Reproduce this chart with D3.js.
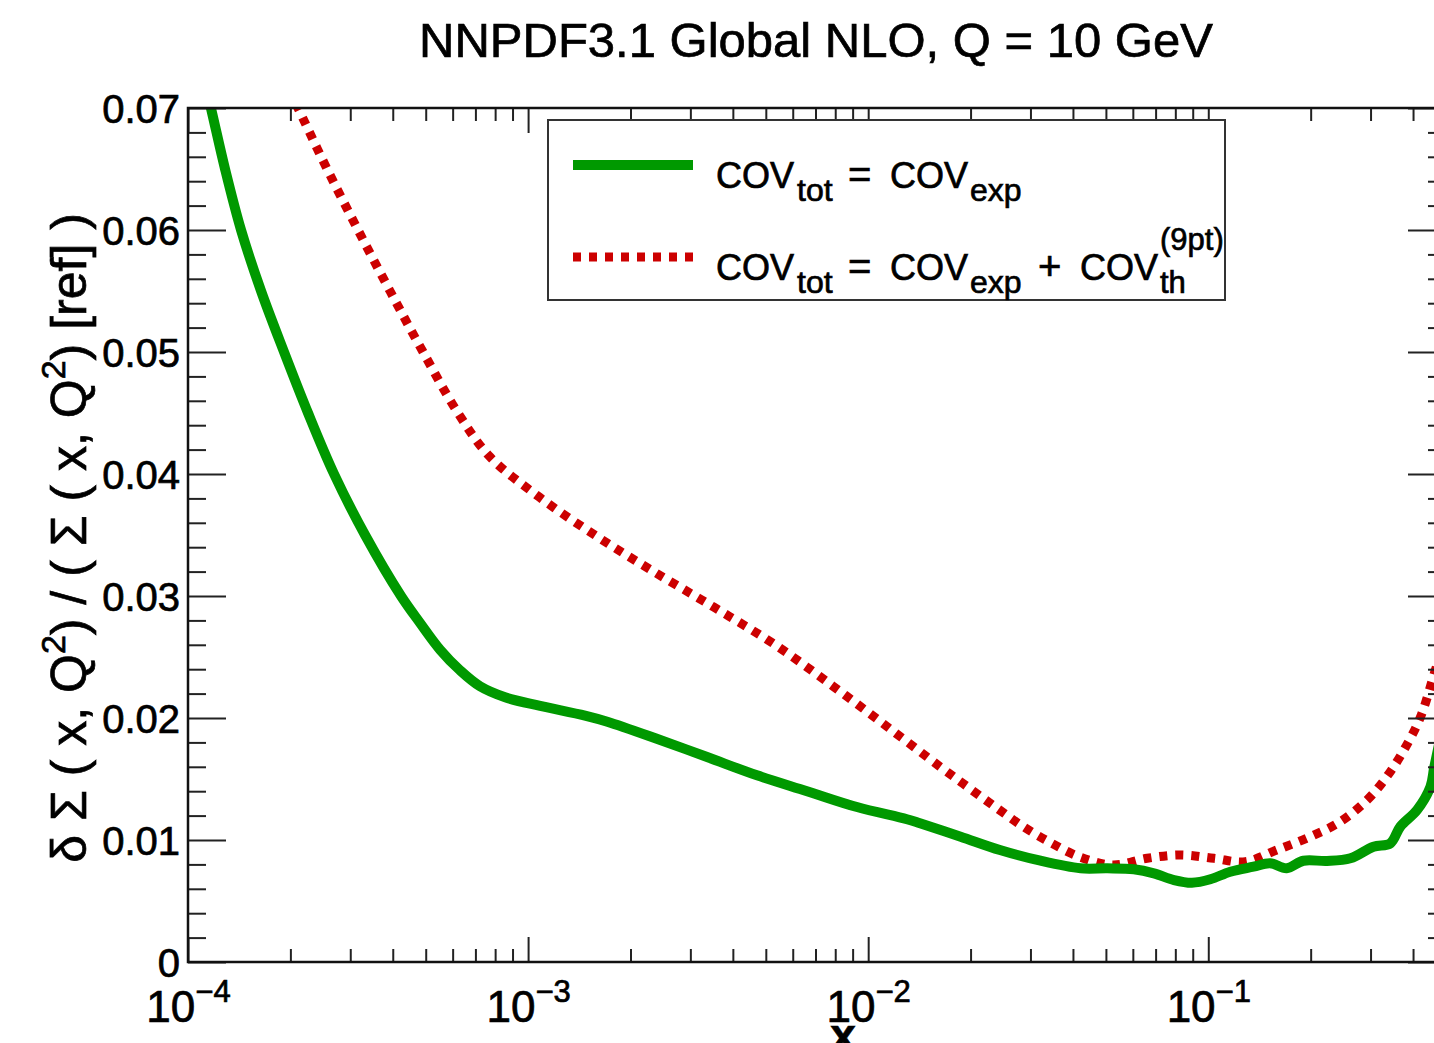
<!DOCTYPE html>
<html>
<head>
<meta charset="utf-8">
<script src="https://cdn.jsdelivr.net/npm/d3@7"></script>
<style>
  html, body { margin: 0; padding: 0; background: #fff; overflow: hidden; }
  svg { display: block; }
  text { font-family: "Liberation Sans", Arial, Helvetica, sans-serif; fill: #000;
         stroke: #000; stroke-width: 0.7px; }
</style>
</head>
<body>
<svg id="chart" width="1434" height="1043"></svg>
<script>
// Relative uncertainty of the singlet PDF, NNPDF3.1 global NLO fit at Q = 10 GeV
const xTot = [1.0e-4, 1.168e-4, 1.285e-4, 1.432e-4, 1.640e-4, 1.916e-4, 2.254e-4, 2.688e-4,
  3.316e-4, 4.23e-4, 4.81e-4, 5.51e-4, 6.31e-4, 7.22e-4, 8.56e-4, 1.085e-3, 1.47e-3,
  1.71e-3, 2.39e-3, 3.36e-3, 4.71e-3, 6.61e-3, 9.27e-3,
  1.30e-2, 1.42e-2, 1.87e-2, 2.44e-2, 3.21e-2, 4.21e-2, 5.05e-2, 6.04e-2, 6.92e-2, 7.93e-2,
  8.95e-2, 0.1014, 0.1161, 0.1358, 0.152, 0.170, 0.1905, 0.2234, 0.2618, 0.306, 0.343,
  0.367, 0.411, 0.450, 0.462, 0.50];
const expOnly = [0.078, 0.070, 0.065, 0.060, 0.055, 0.050, 0.045, 0.040,
  0.035, 0.0300, 0.0278, 0.0256, 0.0239, 0.0226, 0.0217, 0.0210, 0.0202,
  0.0197, 0.0183, 0.0168, 0.0153, 0.0140, 0.0127,
  0.0117, 0.01137, 0.01027, 0.00918, 0.0083, 0.00768, 0.00768, 0.0076, 0.00727, 0.00672,
  0.0065, 0.00678, 0.0074, 0.00781, 0.00809, 0.00768, 0.0083, 0.00828, 0.0085, 0.00945, 0.00973,
  0.0111, 0.01246, 0.01437, 0.016, 0.0205];

const xTh = [1.0e-4, 1.5e-4, 2.106e-4, 2.564e-4, 3.162e-4, 3.926e-4, 4.911e-4, 6.222e-4,
  7.73e-4, 1.08e-3, 1.59e-3, 2.34e-3, 3.51e-3, 5.26e-3, 7.89e-3, 1.161e-2, 1.628e-2,
  1.995e-2, 2.394e-2, 2.856e-2, 3.429e-2, 4.202e-2, 5.255e-2, 6.61e-2, 8.28e-2, 0.1038,
  0.1285, 0.1589, 0.1995, 0.2443, 0.2931, 0.335, 0.376, 0.421, 0.462, 0.50];
const expPlusTh = [0.088, 0.0785, 0.070, 0.065, 0.060, 0.055, 0.050, 0.045,
  0.0414, 0.0381, 0.0349, 0.0320, 0.0291, 0.0261, 0.0226, 0.0191, 0.0160,
  0.0142, 0.0126, 0.0111, 0.0098, 0.0086, 0.00795, 0.0085, 0.00877, 0.0085,
  0.00822, 0.00918, 0.01027, 0.0115, 0.01328, 0.0152, 0.01738, 0.0201, 0.02366, 0.0268];

const xMajorTicks = [1e-4, 1e-3, 1e-2, 1e-1];
const xMajorExponents = ["−4", "−3", "−2", "−1"];
const yMajorTicks = [0, 0.01, 0.02, 0.03, 0.04, 0.05, 0.06, 0.07];
const yTickLabels = ["0", "0.01", "0.02", "0.03", "0.04", "0.05", "0.06", "0.07"];

const titleText = "NNPDF3.1 Global NLO, Q = 10 GeV";

const svg = d3.select("#chart");
const plotLeft = 188, plotRight = 1446, plotTop = 108, plotBottom = 962;

const x = d3.scaleLog().domain([1e-4, 0.5]).range([plotLeft, plotRight]);
const y = d3.scaleLinear().domain([0, 0.07]).range([plotBottom, plotTop]);

// minor ticks: 2..9 per decade
const xMinorTicks = [];
for (let e = -4; e <= -1; e++) for (let k = 2; k <= 9; k++) {
  const v = k * Math.pow(10, e);
  if (v <= 0.5) xMinorTicks.push(v);
}
const yMinorTicks = d3.range(0, 0.0701, 0.002).filter(v => Math.abs(v / 0.01 - Math.round(v / 0.01)) > 1e-6);

svg.append("defs").append("clipPath").attr("id", "plotClip")
  .append("rect").attr("x", plotLeft).attr("y", plotTop)
  .attr("width", plotRight - plotLeft).attr("height", plotBottom - plotTop);

// curves
const line = d3.line().x(d => x(d[0])).y(d => y(d[1])).curve(d3.curveCatmullRom.alpha(0.5));
const curves = svg.append("g").attr("clip-path", "url(#plotClip)");
curves.append("path")
  .attr("d", line(xTh.map((v, i) => [v, expPlusTh[i]])))
  .attr("fill", "none").attr("stroke", "#cc0000").attr("stroke-width", 9)
  .attr("stroke-dasharray", "8,8").attr("stroke-linecap", "butt");
curves.append("path")
  .attr("d", line(xTot.map((v, i) => [v, expOnly[i]])))
  .attr("fill", "none").attr("stroke", "#009900").attr("stroke-width", 10)
  .attr("stroke-linejoin", "round");

// axes (ticks drawn inside the frame)
function styleAxis(g) {
  g.select(".domain").remove();
  g.selectAll(".tick line").attr("stroke", "#222").attr("stroke-width", 2);
}
svg.append("g").attr("transform", `translate(0,${plotBottom})`)
  .call(d3.axisBottom(x).tickValues(xMinorTicks).tickSizeInner(-13).tickSizeOuter(0).tickFormat(""))
  .call(styleAxis);
const xMaj = svg.append("g").attr("transform", `translate(0,${plotBottom})`)
  .call(d3.axisBottom(x).tickValues(xMajorTicks).tickSizeInner(-25).tickSizeOuter(0).tickFormat(""))
  .call(styleAxis);
xMaj.selectAll(".tick text").remove();
xMaj.selectAll(".tick").each(function (d, i) {
  const t = d3.select(this).append("text")
    .attr("y", 60).attr("text-anchor", "middle").attr("font-size", 44).attr("fill", "#000");
  t.append("tspan").text("10");
  t.append("tspan").attr("dy", -20).attr("font-size", 31).text(xMajorExponents[i]);
});
svg.append("g").attr("transform", `translate(0,${plotTop})`)
  .call(d3.axisTop(x).tickValues(xMinorTicks).tickSizeInner(-13).tickSizeOuter(0).tickFormat(""))
  .call(styleAxis);
svg.append("g").attr("transform", `translate(0,${plotTop})`)
  .call(d3.axisTop(x).tickValues(xMajorTicks).tickSizeInner(-25).tickSizeOuter(0).tickFormat(""))
  .call(styleAxis);

svg.append("g").attr("transform", `translate(${plotLeft},0)`)
  .call(d3.axisLeft(y).tickValues(yMinorTicks).tickSizeInner(-18).tickSizeOuter(0).tickFormat(""))
  .call(styleAxis);
const yMaj = svg.append("g").attr("transform", `translate(${plotLeft},0)`)
  .call(d3.axisLeft(y).tickValues(yMajorTicks).tickSizeInner(-38).tickSizeOuter(0).tickPadding(8)
    .tickFormat((d, i) => yTickLabels[i]))
  .call(styleAxis);
yMaj.selectAll(".tick text").attr("font-size", 40).attr("fill", "#000")
  .attr("font-family", "'Liberation Sans', Arial, sans-serif").attr("dy", "0.36em");
svg.append("g").attr("transform", `translate(${plotRight},0)`)
  .call(d3.axisRight(y).tickValues(yMinorTicks).tickSizeInner(-18).tickSizeOuter(0).tickFormat(""))
  .call(styleAxis);
svg.append("g").attr("transform", `translate(${plotRight},0)`)
  .call(d3.axisRight(y).tickValues(yMajorTicks).tickSizeInner(-38).tickSizeOuter(0).tickFormat(""))
  .call(styleAxis);

// frame
svg.append("rect").attr("x", plotLeft).attr("y", plotTop)
  .attr("width", plotRight - plotLeft).attr("height", plotBottom - plotTop)
  .attr("fill", "none").attr("stroke", "#111").attr("stroke-width", 2.5);

// title
svg.append("text").attr("x", 816).attr("y", 57).attr("text-anchor", "middle")
  .attr("font-size", 49).text(titleText);

// axis titles
svg.append("text").attr("x", 843).attr("y", 1051).attr("text-anchor", "middle")
  .attr("font-size", 46).attr("font-weight", "bold").text("x");

const yl = svg.append("text").attr("transform", "translate(86,538) rotate(-90)")
  .attr("text-anchor", "middle").attr("font-size", 50);
yl.append("tspan").text("δ Σ ( x, Q");
yl.append("tspan").attr("dy", -21).attr("font-size", 34).text("2");
yl.append("tspan").attr("dy", 21).text(") / ( Σ ( x, Q");
yl.append("tspan").attr("dy", -21).attr("font-size", 34).text("2");
yl.append("tspan").attr("dy", 21).text(") [ref] )");

// legend
const lg = svg.append("g");
lg.append("rect").attr("x", 548).attr("y", 120).attr("width", 677).attr("height", 180)
  .attr("fill", "#fff").attr("stroke", "#333").attr("stroke-width", 2);
lg.append("line").attr("x1", 573).attr("x2", 693).attr("y1", 165).attr("y2", 165)
  .attr("stroke", "#009900").attr("stroke-width", 10);
lg.append("line").attr("x1", 573).attr("x2", 693).attr("y1", 257).attr("y2", 257)
  .attr("stroke", "#cc0000").attr("stroke-width", 9).attr("stroke-dasharray", "8,8");

// legend entries: each piece is [text, x, baseline offset, font size]
function legendEntry(base, pieces) {
  const t = lg.append("text");
  pieces.forEach(([txt, px, off, fs]) => {
    t.append("tspan").attr("x", px).attr("y", base + off).attr("font-size", fs).text(txt);
  });
}
legendEntry(188, [["COV", 716, 0, 36], ["tot", 797, 13, 32], ["=", 848, 0, 40],
  ["COV", 890, 0, 36], ["exp", 970, 13, 32]]);
legendEntry(280, [["COV", 716, 0, 36], ["tot", 797, 13, 32], ["=", 848, 0, 40],
  ["COV", 890, 0, 36], ["exp", 970, 13, 32], ["+", 1038, 0, 40], ["COV", 1080, 0, 36],
  ["th", 1160, 13, 31], ["(9pt)", 1160, -30, 31]]);
</script>
</body>
</html>
